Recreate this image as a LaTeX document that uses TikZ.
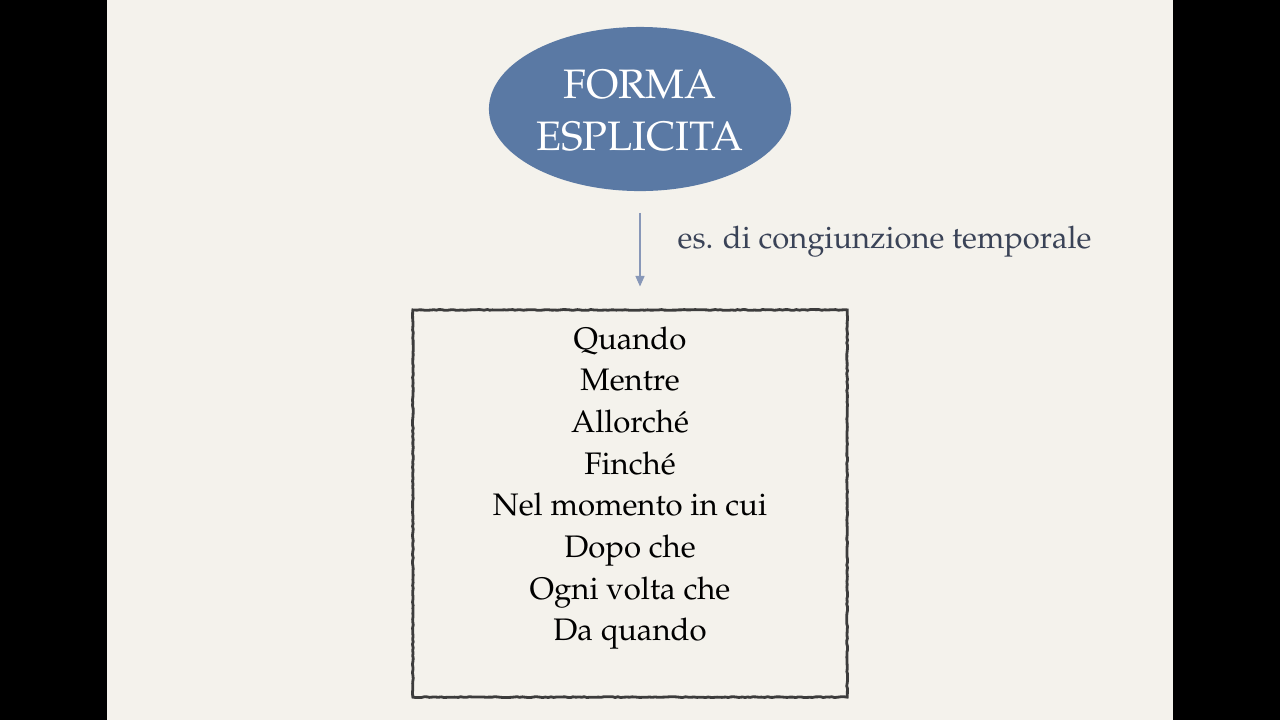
\documentclass[tikz,border=0pt]{standalone}
\usepackage[T1]{fontenc}
\usepackage{mathpazo}
\usepackage{xcolor}
\usepackage{tikz}
\usetikzlibrary{arrows.meta,shapes.geometric,decorations.pathmorphing}

\definecolor{paper}{HTML}{F4F2EC}
\definecolor{ovalblue}{HTML}{5A79A4}
\definecolor{arrowgray}{HTML}{8898B8}
\definecolor{labelnavy}{HTML}{3A4357}
\definecolor{pencil}{HTML}{3C3C3C}

\tikzset{
  oval/.style={ellipse, fill=ovalblue, draw=none, minimum width=3.02cm, minimum height=1.64cm,
    inner sep=0pt},
  ovaltext/.style={text=white, font=\fontsize{11.7}{14}\selectfont, anchor=base, inner sep=0pt},
  listbox/.style={rectangle, draw=pencil, line width=0.8pt, minimum width=4.34cm, minimum height=3.87cm,
    inner sep=0pt, decorate, decoration={random steps, segment length=0.8pt, amplitude=0.12pt}},
  word/.style={font=\fontsize{8.85}{11}\selectfont, text=black, anchor=base, inner sep=0pt},
  arr/.style={draw=arrowgray, line width=0.3pt, -{Triangle[length=3pt,width=2.6pt]}}
}

\begin{document}
\begin{tikzpicture}[x=0.01cm, y=-0.01cm]
  \useasboundingbox (0,0) rectangle (1280,720);
  \fill[black] (0,0) rectangle (1280,720);
  \fill[paper] (107,0) rectangle (1173,720);
  % ellisse
  \node[oval] (ell) at (640,109) {};
  \node[ovaltext] (t1) at (640,98) {FORMA};
  \node[ovaltext] (t2) at (640,150) {ESPLICITA};
  % riquadro
  \node[listbox] (box) at (630,503.5) {};
  \draw[arr, shorten <=0.21cm, shorten >=0.22cm] (ell.south) -- (ell.south |- box.north);
  \node[font=\fontsize{8.8}{11}\selectfont, text=labelnavy, anchor=base west, inner sep=0pt] (lbl) at (677,248)
    {es. di congiunzione temporale};
  \foreach \w [count=\i from 0] in {Quando,Mentre,Allorché,Finché,Nel momento in cui,Dopo che,Ogni volta che,Da quando}
    \node[word] (w\i) at (630,349+41.7*\i) {\w};
\end{tikzpicture}
\end{document}
